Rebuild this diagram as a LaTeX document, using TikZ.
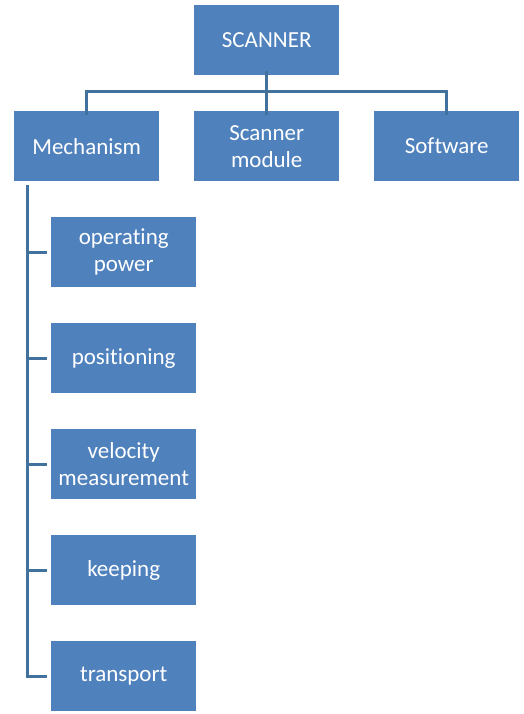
\documentclass[tikz,border=0pt]{standalone}
\usepackage{fontspec}
\setmainfont[Ligatures={NoCommon}]{Carlito}
\definecolor{boxblue}{HTML}{4F81BD}
\definecolor{lineblue}{HTML}{41719C}
\begin{document}
\begin{tikzpicture}[x=1pt,y=-1pt,
  box/.style={fill=boxblue,draw=none,minimum width=145pt,minimum height=70pt,inner sep=0pt,
    text=white,align=center,font=\fontsize{23}{27}\selectfont},
  conn/.style={draw=lineblue,line width=3pt}]
\useasboundingbox (0,0) rectangle (524,714);
\node[box,anchor=north west] (root) at (194,5) {SCANNER};
\node[box,anchor=north west] (mech) at (14,111) {Mechanism};
\node[box,anchor=north west] (scan) at (194,111) {Scanner\\module};
\node[box,anchor=north west] (soft) at (374,111) {Software};
\node[box,anchor=north west] (c1) at (51,217) {operating\\power};
\node[box,anchor=north west] (c2) at (51,323) {positioning};
\node[box,anchor=north west] (c3) at (51,429) {velocity\\measurement};
\node[box,anchor=north west] (c4) at (51,535) {keeping};
\node[box,anchor=north west] (c5) at (51,641) {transport};
\coordinate (bus) at (266,92);
\draw[conn] ([yshift=4pt]root.south) -- ([yshift=-4pt]scan.north);
\draw[conn] ([yshift=-4pt]mech.north -| 86,0) |- (bus) -| ([yshift=-4pt]soft.north);
\coordinate (spine) at (27,185);
\draw[conn] (spine) |- ([xshift=-4pt]c5.west);
\foreach \c in {c1,c2,c3,c4}{
  \draw[conn] (27,0 |- \c.west) -- ([xshift=-4pt]\c.west);
}
\end{tikzpicture}
\end{document}
